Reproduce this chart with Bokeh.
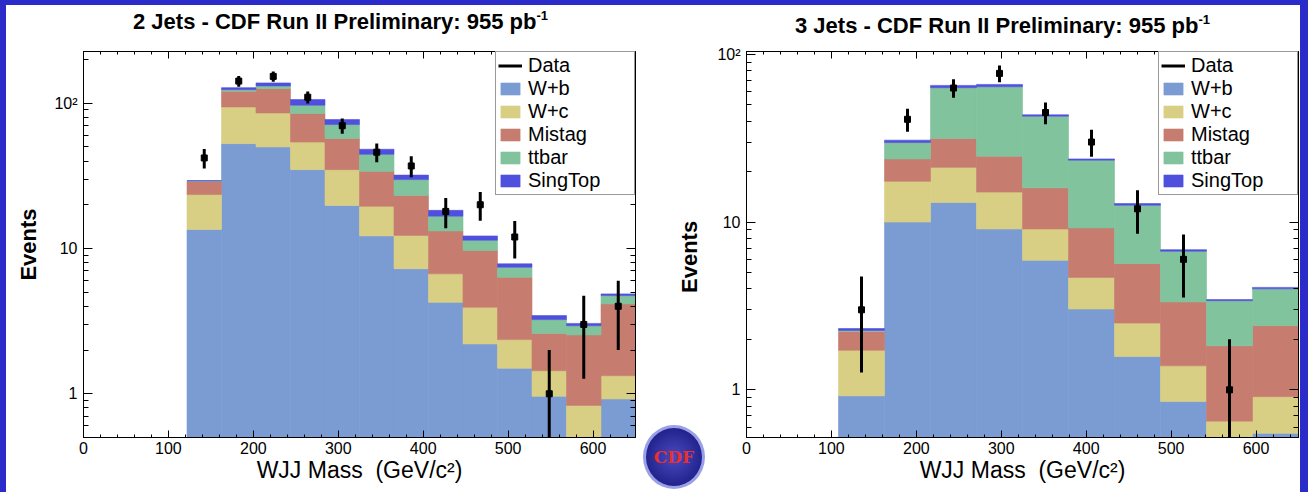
import numpy as np
from bokeh.plotting import figure
from bokeh.models import (Range1d, FixedTicker, SingleIntervalTicker, LinearAxis, LogAxis,
                          Legend, LegendItem, Spacer, Div, CustomJSTickFormatter)
from bokeh.layouts import row, column
from bokeh.embed import file_html
from bokeh.resources import INLINE

FONT = "Liberation Sans"
BORDER_BLUE = "#2b2bca"

process_names = ["W+b", "W+c", "Mistag", "ttbar", "SingTop"]
process_colors = ["#7b9bd3", "#d8cf85", "#c67c6e", "#80c39d", "#5050de"]

# ---- 2-jet sample: WJJ mass bins (GeV/c^2) and expected events per process ----
edges_2j = [121.875, 162.5, 203.125, 243.75, 284.375, 325.0, 365.625, 406.25,
            446.875, 487.5, 528.125, 568.75, 609.375, 650.0]
wb_2j = [13.5, 52.7, 50.0, 34.9, 19.8, 12.2, 7.25, 4.26, 2.20, 1.50, 0.96, 0.40, 0.92]
wc_2j = [10.0, 41.6, 35.7, 19.1, 15.1, 7.3, 5.05, 2.43, 1.74, 0.86, 0.48, 0.43, 0.41]
mistag_2j = [5.5, 26.7, 40.3, 30.9, 22.2, 14.5, 10.9, 6.51, 5.75, 3.98, 1.16, 1.71, 2.82]
ttbar_2j = [0.2, 3.0, 5.6, 12.0, 14.2, 10.5, 6.6, 3.5, 1.71, 1.09, 0.64, 0.40, 0.59]
singtop_2j = [0.1, 4.0, 6.4, 9.1, 5.9, 3.7, 2.2, 1.6, 0.8, 0.41, 0.21, 0.11, 0.13]
data_2j = [42, 142, 153, 110, 70, 46, 37, 18, 20, 12, 1, 3, 4]

# ---- 3-jet sample ----
edges_3j = [108.333, 162.5, 216.667, 270.833, 325.0, 379.167, 433.333, 487.5,
            541.667, 595.833, 650.0]
wb_3j = [0.92, 10.0, 13.1, 9.1, 5.92, 3.03, 1.58, 0.85, 0.45, 0.55]
wc_3j = [0.80, 7.5, 8.1, 6.0, 3.18, 1.65, 0.92, 0.54, 0.20, 0.36]
mistag_3j = [0.51, 6.3, 10.3, 9.6, 6.9, 4.55, 3.15, 1.95, 1.18, 1.50]
ttbar_3j = [0.03, 6.0, 31.8, 39.4, 26.8, 14.17, 6.95, 3.36, 1.57, 1.59]
singtop_3j = [0.06, 1.0, 2.0, 2.1, 0.8, 0.4, 0.3, 0.15, 0.05, 0.08]
data_3j = [3, 41, 63, 77, 45, 30, 12, 6, 1, 0]

x_tick_step = 100
y_major_ticks = [1, 10, 100]
y_minor_ticks = [m * 10.0 ** e for e in (-1, 0, 1, 2) for m in range(1, 10)]

X_LABEL = "WJJ Mass\u00a0\u00a0(GeV/c\u00b2)"


def style_axis(ax, tick_in, minor_in):
    ax.axis_line_color = "black"
    ax.axis_line_width = 1
    ax.major_tick_in = tick_in
    ax.major_tick_out = 0
    ax.minor_tick_in = minor_in
    ax.minor_tick_out = 0
    ax.major_tick_line_color = "black"
    ax.minor_tick_line_color = "black"
    ax.major_label_text_font = FONT
    ax.major_label_text_font_size = "16px"
    ax.major_label_text_color = "black"
    ax.axis_label_text_color = "black"


def blank_axis(ax):
    ax.formatter = CustomJSTickFormatter(code="return '';")
    ax.major_label_standoff = 0
    ax.major_label_text_font_size = "0px"


def build_panel(edges, stack, counts, y_lo, y_hi, width, border_left, border_right,
                y_title):
    p = figure(width=width, height=447, x_range=Range1d(0, 650),
               y_range=Range1d(y_lo, y_hi), y_axis_type="log",
               output_backend="svg", toolbar_location=None,
               min_border_left=border_left, min_border_right=border_right,
               min_border_top=6, min_border_bottom=55)
    p.outline_line_color = "black"
    p.outline_line_width = 1
    p.xgrid.visible = False
    p.ygrid.visible = False
    p.background_fill_color = "white"
    p.border_fill_color = "white"

    x_ticker = SingleIntervalTicker(interval=x_tick_step, num_minor_ticks=5)
    y_ticker = FixedTicker(ticks=y_major_ticks, minor_ticks=y_minor_ticks)

    xa = p.xaxis[0]
    xa.ticker = x_ticker
    style_axis(xa, 7, 3)
    xa.major_label_standoff = 4
    xa.axis_label = X_LABEL
    xa.axis_label_text_font = FONT
    xa.axis_label_text_font_size = "23px"
    xa.axis_label_text_font_style = "normal"
    xa.axis_label_standoff = 0

    ya = p.yaxis[0]
    ya.ticker = y_ticker
    ya.formatter = CustomJSTickFormatter(
        code="return tick >= 100 ? '10\u00b2' : tick.toFixed(0);")
    style_axis(ya, 9, 5)
    ya.major_label_standoff = 6
    if y_title:
        ya.axis_label = "Events"
        ya.axis_label_text_font = FONT
        ya.axis_label_text_font_size = "22px"
        ya.axis_label_text_font_style = "bold"
        ya.axis_label_standoff = 10

    top = LinearAxis(ticker=x_ticker)
    style_axis(top, 7, 3)
    blank_axis(top)
    p.add_layout(top, "above")
    right = LogAxis(ticker=y_ticker)
    style_axis(right, 9, 5)
    blank_axis(right)
    p.add_layout(right, "right")

    left_e = np.array(edges[:-1])
    right_e = np.array(edges[1:])
    base = np.full(len(left_e), 1e-3)
    fills = []
    for color, vals in zip(process_colors, stack):
        top_v = base + np.array(vals)
        r = p.quad(left=left_e, right=right_e, bottom=base, top=top_v,
                   fill_color=color, line_color=color, line_width=0.6)
        fills.append(r)
        base = top_v

    n = np.array(counts, dtype=float)
    centers = (left_e + right_e) / 2
    keep = n > 0
    err = np.sqrt(n)
    lo = np.maximum(n - err, 1e-3)
    hi = n + err
    bars = p.segment(x0=centers[keep], y0=lo[keep], x1=centers[keep], y1=hi[keep],
                     line_color="black", line_width=3)
    p.scatter(centers[keep], n[keep], marker="square", size=6, color="black")

    items = [LegendItem(label="Data", renderers=[bars])]
    items += [LegendItem(label=nm, renderers=[r]) for nm, r in zip(process_names, fills)]
    legend = Legend(items=items, location="top_right", margin=0, padding=2, spacing=0,
                    glyph_width=24, glyph_height=15, label_standoff=6, label_width=104,
                    label_text_font=FONT, label_text_font_size="20px",
                    label_text_color="black",
                    border_line_color="#333333", border_line_width=1,
                    background_fill_color="white", background_fill_alpha=1.0)
    p.add_layout(legend)
    return p


def title_div(text, width, pad_left, pad_top):
    html = (f'<div style="margin-top:{pad_top}px;margin-left:{pad_left}px;'
            f'font-family:\'{FONT}\';font-weight:bold;font-size:22px;line-height:22px;'
            f'white-space:nowrap;color:black;">{text}'
            '<sup style="font-size:13px;vertical-align:9px;line-height:0;">-1</sup></div>')
    return Div(text=html, width=width, height=40, margin=0)


p2 = build_panel(edges_2j, [wb_2j, wc_2j, mistag_2j, ttbar_2j, singtop_2j], data_2j,
                 0.5, 227, 634, 77, 5, True)
p3 = build_panel(edges_3j, [wb_3j, wc_3j, mistag_3j, ttbar_3j, singtop_3j], data_3j,
                 0.52, 104, 590, 36, 2, False)

left_col = column(title_div("2 Jets - CDF Run II Preliminary: 955 pb", 634, 127, 6), p2)
right_col = column(title_div("3 Jets - CDF Run II Preliminary: 955 pb", 590, 85, 10), p3)

# y-axis title of the 3-jet panel and the experiment badge share the gap column
events_3j = Div(
    text=(f'<div style="margin-top:39px;text-align:center;white-space:nowrap;color:black;'
          f'font-family:\'{FONT}\';font-weight:bold;font-size:22px;line-height:22px;">'
          'Events</div>'),
    width=70, height=70, margin=0, styles={"transform": "rotate(-90deg)"})
badge = Div(
    text=('<div style="margin-left:3px;width:62px;height:64px;border-radius:50%;'
          'box-sizing:border-box;border:3px solid #9aa0e8;'
          'background:radial-gradient(circle,#4a4ac0 0%,#20208a 75%);'
          'display:flex;align-items:center;justify-content:center;">'
          '<span style="color:#e83030;font-family:\'DejaVu Serif\';font-weight:bold;'
          'font-size:17px;">CDF</span></div>'),
    width=70, height=67, margin=0)
mid_col = column(Spacer(width=70, height=218), events_3j, Spacer(width=70, height=132),
                 badge)

panels = row(left_col, mid_col, right_col, styles={"background-color": "white"})
page = row(Spacer(width=6, height=492),
           column(Spacer(width=1294, height=5), panels),
           Spacer(width=8, height=492),
           styles={"background-color": BORDER_BLUE})

open("out.html", "w").write(file_html(page, INLINE))
